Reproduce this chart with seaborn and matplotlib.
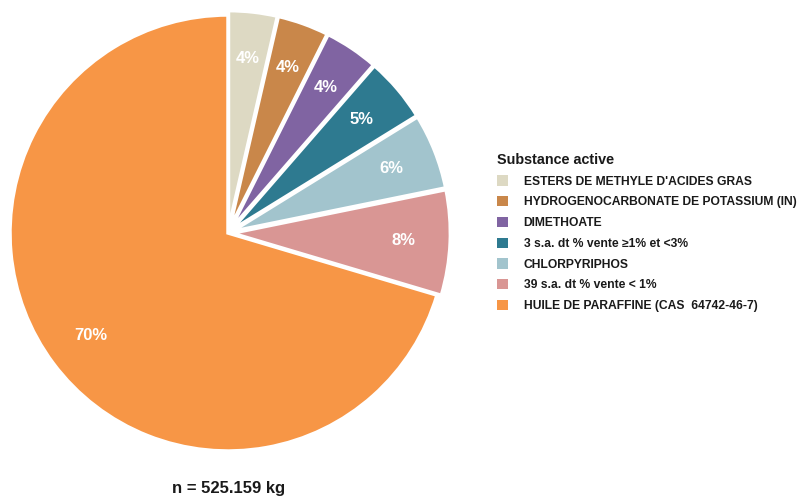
import matplotlib
matplotlib.use("Agg")
import matplotlib.pyplot as plt
import seaborn as sns

# Share of sales by active substance
substances = [
    "ESTERS DE METHYLE D'ACIDES GRAS",
    "HYDROGENOCARBONATE DE POTASSIUM (IN)",
    "DIMETHOATE",
    "3 s.a. dt % vente \u22651% et <3%",
    "CHLORPYRIPHOS",
    "39 s.a. dt % vente < 1%",
    "HUILE DE PARAFFINE (CAS  64742-46-7)",
]
shares = [3.6, 3.8, 4.0, 4.8, 5.6, 7.8, 70.4]
colors = ["#DDD9C3", "#C9874A", "#8064A2", "#2E7A90", "#A2C4CD", "#D99694", "#F79646"]
legend_title = "Substance active"
total_label = "n = 525.159 kg"

sns.set_theme(style="white")
plt.rcParams["font.family"] = ["Liberation Sans", "DejaVu Sans"]

fig = plt.figure(figsize=(8, 4.97), dpi=100)
ax = fig.add_axes([10 / 800, 46 / 497, 436 / 800, 436 / 497])

palette = sns.color_palette(colors)
explode = [0.02] * (len(shares) - 1) + [0.0]
wedges, texts, autotexts = ax.pie(
    shares,
    colors=palette,
    startangle=90,
    counterclock=False,
    explode=explode,
    autopct=lambda p: f"{p:.0f}%",
    pctdistance=0.785,
    wedgeprops=dict(edgecolor="white", linewidth=2.5),
    textprops=dict(color="white", fontsize=12, fontweight="bold"),
)
for w in wedges:
    w.set_clip_on(False)
ax.set_xlim(-1, 1)
ax.set_ylim(-1, 1)
ax.set_aspect("equal")
ax.axis("off")

leg = fig.legend(
    wedges,
    substances,
    title=legend_title,
    loc="upper left",
    bbox_to_anchor=(486 / 800, 1 - 142 / 497),
    frameon=False,
    handlelength=0.9,
    handleheight=0.9,
    handletextpad=1.3,
    labelspacing=0.70,
    prop=dict(size=8.75, weight="bold"),
    title_fontproperties=dict(size=10.4, weight="bold"),
    alignment="left",
)
for t in leg.get_texts():
    t.set_color("#1a1a1a")
leg.get_title().set_color("#1a1a1a")
for h in leg.legend_handles:
    h.set_edgecolor("none")

fig.text(229 / 800, 1 - 488 / 497, total_label, ha="center", va="center",
         fontsize=12, fontweight="bold", color="#1a1a1a")

fig.savefig("out.png", dpi=100, facecolor="white")
